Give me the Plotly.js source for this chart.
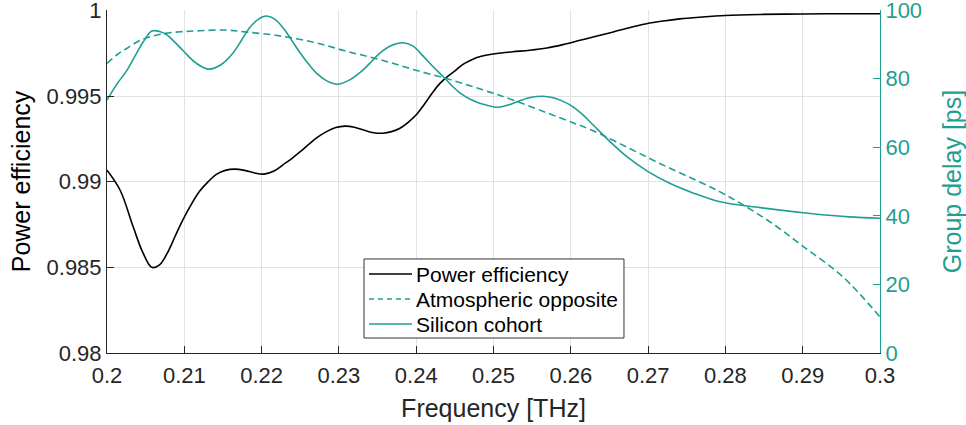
<!DOCTYPE html>
<html>
<head>
<meta charset="utf-8">
<script src="https://cdn.plot.ly/plotly-3.0.1.min.js"></script>
<style>html,body{margin:0;padding:0;background:#fff;}#chart{width:966px;height:425px;}</style>
</head>
<body>
<div id="chart"></div>
<script>
// Series names
const seriesNames = ['Power efficiency', 'Atmospheric opposite', 'Silicon cohort'];

// Power efficiency (left axis)
const effFreq = [0.2000, 0.2017, 0.2034, 0.2046, 0.2058, 0.2068, 0.2078, 0.2088, 0.2098, 0.2110, 0.2120, 0.2131, 0.2142, 0.2153, 0.2165, 0.2178, 0.2190, 0.2203, 0.2216, 0.2228, 0.2239, 0.2250, 0.2261, 0.2272, 0.2284, 0.2296, 0.2308, 0.2320, 0.2333, 0.2345, 0.2357, 0.2368, 0.2379, 0.2390, 0.2401, 0.2411, 0.2422, 0.2431, 0.2440, 0.2451, 0.2461, 0.2472, 0.2483, 0.2504, 0.2525, 0.2547, 0.2569, 0.2590, 0.2612, 0.2634, 0.2655, 0.2677, 0.2698, 0.2720, 0.2741, 0.2767, 0.2800, 0.2845, 0.2900, 0.2950, 0.3000];
const effVals = [0.99067, 0.98950, 0.98735, 0.98590, 0.98500, 0.98515, 0.98583, 0.98680, 0.98776, 0.98875, 0.98945, 0.99000, 0.99044, 0.99066, 0.99073, 0.99066, 0.99052, 0.99044, 0.99062, 0.99100, 0.99135, 0.99175, 0.99218, 0.99258, 0.99292, 0.99316, 0.99324, 0.99318, 0.99300, 0.99286, 0.99283, 0.99292, 0.99312, 0.99348, 0.99395, 0.99455, 0.99525, 0.99575, 0.99612, 0.99650, 0.99686, 0.99712, 0.99730, 0.99748, 0.99758, 0.99767, 0.99780, 0.99800, 0.99825, 0.99850, 0.99874, 0.99900, 0.99922, 0.99938, 0.99950, 0.99960, 0.99970, 0.99976, 0.99979, 0.99980, 0.99980];

// Atmospheric opposite (right axis, dashed)
const atmFreq = [0.2000, 0.2013, 0.2026, 0.2043, 0.2069, 0.2095, 0.2120, 0.2153, 0.2181, 0.2224, 0.2270, 0.2310, 0.2353, 0.2396, 0.2440, 0.2483, 0.2525, 0.2586, 0.2629, 0.2673, 0.2715, 0.2758, 0.2793, 0.2823, 0.2860, 0.2900, 0.2952, 0.3000];
const atmVals = [84.5, 87.0, 88.9, 91.2, 93.0, 93.7, 94.0, 94.2, 93.6, 92.5, 90.5, 88.0, 85.6, 82.7, 80.0, 77.0, 73.8, 68.6, 64.8, 60.0, 55.3, 50.8, 47.0, 43.2, 37.9, 31.2, 22.2, 10.5];

// Silicon cohort (right axis, solid)
const siFreq = [0.2000, 0.2013, 0.2026, 0.2036, 0.2047, 0.2058, 0.2068, 0.2078, 0.2088, 0.2098, 0.2115, 0.2131, 0.2147, 0.2163, 0.2175, 0.2185, 0.2196, 0.2206, 0.2217, 0.2228, 0.2239, 0.2250, 0.2261, 0.2272, 0.2285, 0.2299, 0.2315, 0.2331, 0.2343, 0.2353, 0.2368, 0.2383, 0.2396, 0.2409, 0.2422, 0.2435, 0.2446, 0.2457, 0.2470, 0.2483, 0.2505, 0.2520, 0.2534, 0.2549, 0.2564, 0.2576, 0.2590, 0.2601, 0.2615, 0.2629, 0.2651, 0.2673, 0.2700, 0.2728, 0.2758, 0.2793, 0.2845, 0.2910, 0.2960, 0.3000];
const siVals = [73.8, 78.5, 82.5, 86.5, 90.8, 93.9, 93.8, 92.7, 90.6, 88.3, 84.6, 82.8, 84.0, 87.5, 91.6, 95.0, 97.4, 98.3, 97.4, 94.8, 91.2, 87.5, 84.2, 81.4, 79.3, 78.4, 79.8, 82.5, 85.2, 87.5, 89.7, 90.5, 89.5, 86.6, 83.5, 80.6, 78.0, 75.8, 74.0, 72.8, 71.7, 72.4, 73.6, 74.6, 74.9, 74.5, 73.4, 72.1, 69.6, 66.5, 61.6, 57.2, 52.9, 49.5, 46.7, 44.1, 42.4, 40.7, 39.7, 39.3];

// Tick values
const xTicks = [0.2, 0.21, 0.22, 0.23, 0.24, 0.25, 0.26, 0.27, 0.28, 0.29, 0.3];
const yTicks = [0.98, 0.985, 0.99, 0.995, 1];
const y2Ticks = [0, 20, 40, 60, 80, 100];

const teal = '#1f9e94';
const dark = '#262626';
const font = 'Liberation Sans, Arial, Helvetica, sans-serif';
const dashStyle = '7px,4px';

const traces = [
  {x: effFreq, y: effVals, name: seriesNames[0], type: 'scatter', mode: 'lines',
   line: {color: '#000000', width: 1.6, shape: 'spline', smoothing: 1}, yaxis: 'y'},
  {x: atmFreq, y: atmVals, name: seriesNames[1], type: 'scatter', mode: 'lines',
   line: {color: teal, width: 1.6, dash: dashStyle, shape: 'spline', smoothing: 1}, yaxis: 'y2'},
  {x: siFreq, y: siVals, name: seriesNames[2], type: 'scatter', mode: 'lines',
   line: {color: teal, width: 1.6, shape: 'spline', smoothing: 1}, yaxis: 'y2'}
];

// Manual legend (paper coordinates)
const legBox = {x0: 0.3325, x1: 0.6688, y0: 0.0437, y1: 0.2741};
const legRows = [0.2303, 0.1574, 0.0845];
const legLineX = [0.3389, 0.3946];
const legTextX = 0.3985;
const legStyles = [
  {color: '#000000', dash: 'solid'},
  {color: teal, dash: '5px,4px'},
  {color: teal, dash: 'solid'}
];
const shapes = [{type: 'rect', xref: 'paper', yref: 'paper', x0: legBox.x0, x1: legBox.x1, y0: legBox.y0, y1: legBox.y1,
  fillcolor: '#ffffff', line: {color: '#333333', width: 1}, layer: 'above'}];
const annotations = [];
seriesNames.forEach((n, i) => {
  shapes.push({type: 'line', xref: 'paper', yref: 'paper', x0: legLineX[0], x1: legLineX[1], y0: legRows[i], y1: legRows[i],
    line: {color: legStyles[i].color, width: 1.6, dash: legStyles[i].dash}, layer: 'above'});
  annotations.push({xref: 'paper', yref: 'paper', x: legTextX, y: legRows[i], xanchor: 'left', yanchor: 'middle',
    text: n, showarrow: false, font: {family: font, size: 21, color: '#000000'}, borderpad: 0});
});

const layout = {
  width: 966, height: 425,
  margin: {l: 107, r: 86, t: 10, b: 72, pad: 0},
  paper_bgcolor: '#ffffff', plot_bgcolor: '#ffffff',
  font: {family: font, color: dark, size: 22},
  showlegend: false,
  shapes: shapes,
  annotations: annotations,
  xaxis: {
    range: [0.2, 0.3], tickmode: 'array', tickvals: xTicks,
    showgrid: true, gridcolor: '#e2e2e2', gridwidth: 1,
    showline: true, linecolor: dark, linewidth: 1,
    ticks: 'inside', ticklen: 7, tickcolor: dark, tickwidth: 1,
    tickfont: {family: font, size: 22, color: dark}, ticklabelstandoff: 3,
    ticklabeloverflow: 'allow',
    zeroline: false, mirror: false,
    title: {text: 'Frequency [THz]', font: {family: font, size: 25, color: dark}, standoff: 12}
  },
  yaxis: {
    range: [0.98, 1.00002], tickmode: 'array', tickvals: yTicks,
    showgrid: true, gridcolor: '#e2e2e2', gridwidth: 1,
    showline: true, linecolor: dark, linewidth: 1,
    ticks: 'inside', ticklen: 7, tickcolor: dark, tickwidth: 1,
    tickfont: {family: font, size: 22, color: dark},
    ticklabeloverflow: 'allow',
    zeroline: false,
    title: {text: 'Power efficiency', font: {family: font, size: 25, color: '#000000'}, standoff: 8}
  },
  yaxis2: {
    range: [0, 100.05], tickmode: 'array', tickvals: y2Ticks,
    overlaying: 'y', side: 'right',
    showgrid: false, zeroline: false,
    showline: true, linecolor: teal, linewidth: 1,
    ticks: 'inside', ticklen: 7, tickcolor: teal, tickwidth: 1,
    tickfont: {family: font, size: 22, color: teal},
    ticklabeloverflow: 'allow',
    title: {text: 'Group delay [ps]', font: {family: font, size: 25, color: teal}, standoff: 23}
  }
};

Plotly.newPlot('chart', traces, layout, {staticPlot: true, displayModeBar: false});
</script>
</body>
</html>
